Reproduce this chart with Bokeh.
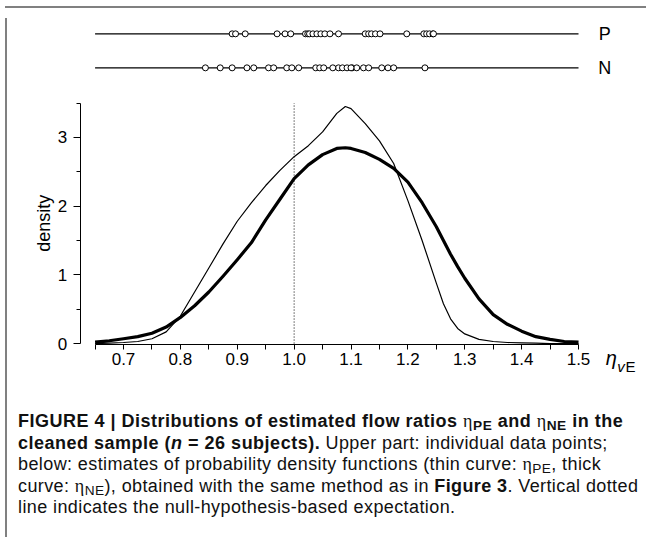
from bokeh.plotting import figure
from bokeh.models import FixedTicker, PrintfTickFormatter, Div, Range1d
from bokeh.layouts import column, row
from bokeh.embed import file_html
from bokeh.resources import INLINE
from bokeh.core.properties import value
import math

# ---------------- data ----------------
x_grid = [0.650, 0.675, 0.700, 0.725, 0.750, 0.775, 0.800, 0.825, 0.850, 0.875,
          0.900, 0.925, 0.950, 0.975, 1.000, 1.025, 1.050, 1.075, 1.090, 1.100,
          1.125, 1.150, 1.175, 1.200, 1.225, 1.250, 1.2625, 1.275, 1.2875, 1.300,
          1.325, 1.350, 1.375, 1.400, 1.425, 1.450, 1.475, 1.500]
# thin curve: eta_PE
p_density = [0.00, 0.005, 0.015, 0.03, 0.07, 0.17, 0.40, 0.75, 1.10, 1.45,
             1.78, 2.05, 2.30, 2.52, 2.72, 2.88, 3.08, 3.35, 3.45, 3.42,
             3.20, 2.95, 2.62, 2.08, 1.50, 0.88, 0.58, 0.36, 0.22, 0.14,
             0.06, 0.03, 0.015, 0.01, 0.005, 0.0, 0.0, 0.0]
# thick curve: eta_NE
n_density = [0.02, 0.04, 0.07, 0.10, 0.15, 0.24, 0.38, 0.55, 0.75, 0.98,
             1.22, 1.47, 1.80, 2.10, 2.40, 2.60, 2.75, 2.84, 2.85, 2.84,
             2.78, 2.68, 2.55, 2.35, 2.05, 1.70, 1.50, 1.30, 1.12, 0.95,
             0.65, 0.42, 0.28, 0.18, 0.10, 0.06, 0.03, 0.02]

p_points = [0.891, 0.897, 0.914, 0.970, 0.984, 0.994, 1.020, 1.024, 1.027, 1.033,
            1.040, 1.047, 1.054, 1.063, 1.078, 1.125, 1.131, 1.136, 1.143, 1.151,
            1.198, 1.228, 1.233, 1.238, 1.244, 1.245]
n_points = [0.844, 0.870, 0.891, 0.917, 0.929, 0.955, 0.964, 0.987, 0.996, 1.008,
            1.038, 1.045, 1.052, 1.078, 1.085, 1.093, 1.102, 1.110, 1.122, 1.131,
            1.154, 1.165, 1.175, 1.230, 1.068, 1.100]

strip_labels = ["P", "N"]

x_ticks = [0.7, 0.8, 0.9, 1.0, 1.1, 1.2, 1.3, 1.4, 1.5]
x_minor = [0.65, 0.75, 0.85, 0.95, 1.05, 1.15, 1.25, 1.35, 1.45]
y_ticks = [0, 1, 2, 3]
y_minor = [0.5, 1.5, 2.5, 3.5]
null_expectation = 1.0

# ---------------- layout constants ----------------
FONT = "Liberation Sans"
x_lo, x_hi = min(x_minor), max(x_ticks)
y_lo, y_hi = min(y_ticks), max(y_minor)
STRIP_Y = [4.508, 4.013]      # vertical positions of the two strips (P above N)
LABEL_X = 1.5460              # P / N labels
YAXIS_X = 0.6239              # where the y axis is drawn
XAXIS_Y = -0.015              # where the x axis is drawn

W = 639
p = figure(width=W, height=393, x_range=Range1d(0.5470, 1.6213),
           y_range=Range1d(-0.538, 4.804),
           output_backend="svg", toolbar_location=None,
           min_border_left=24, min_border_right=4, min_border_top=0, min_border_bottom=26)
p.grid.visible = False
p.outline_line_color = None

# strips with individual data points
p.segment(x0=[x_lo, x_lo], y0=STRIP_Y, x1=[x_hi, x_hi], y1=STRIP_Y,
          line_color="black", line_width=1.3)
p.scatter(p_points, [STRIP_Y[0]] * len(p_points), size=6,
          fill_color="white", line_color="black", line_width=1)
p.scatter(n_points, [STRIP_Y[1]] * len(n_points), size=6,
          fill_color="white", line_color="black", line_width=1)
p.text(x=[LABEL_X, LABEL_X], y=STRIP_Y, text=strip_labels,
       text_align="center", text_baseline="middle",
       text_font=value(FONT), text_font_size="18px", text_color="black")

# densities
p.segment(x0=[null_expectation], y0=[y_lo], x1=[null_expectation], y1=[y_hi],
          line_color="black", line_width=1, line_dash="1 2")
p.line(x_grid, n_density, line_color="black", line_width=3.2, line_join="round")
p.line(x_grid, p_density, line_color="black", line_width=1.2, line_join="round")

xa = p.xaxis[0]
xa.fixed_location = XAXIS_Y
xa.bounds = (x_lo, x_hi)
xa.ticker = FixedTicker(ticks=x_ticks, minor_ticks=x_minor)
xa.formatter = PrintfTickFormatter(format="%.1f")
xa.major_tick_out = 5
xa.minor_tick_out = 5
xa.major_tick_in = 0
xa.minor_tick_in = 0
xa.major_label_standoff = 3
xa.major_label_text_font = FONT
xa.major_label_text_font_size = "17px"
xa.major_label_text_color = "black"
xa.axis_line_color = "black"
xa.major_tick_line_color = "black"
xa.minor_tick_line_color = "black"

ya = p.yaxis[0]
ya.fixed_location = YAXIS_X
ya.bounds = (y_lo, y_hi)
ya.ticker = FixedTicker(ticks=y_ticks, minor_ticks=y_minor)
ya.major_tick_out = 7
ya.minor_tick_out = 4
ya.major_tick_in = 0
ya.minor_tick_in = 0
ya.major_label_standoff = 6
ya.major_label_text_font = FONT
ya.major_label_text_font_size = "17px"
ya.major_label_text_color = "black"
ya.axis_line_color = "black"
ya.major_tick_line_color = "black"
ya.minor_tick_line_color = "black"

# y-axis title
p.text(x=[0.5605], y=[(y_lo + y_hi) / 2], text=["density"], angle=math.pi / 2,
       text_align="center", text_baseline="middle",
       text_font=value(FONT), text_font_size="18px", text_color="black")

# x-axis title: eta_{vE}
p.text(x=[1.5480], y=[-0.204], text=["η"], text_align="left", text_baseline="middle",
       text_font=value(FONT), text_font_size="20px", text_font_style="italic",
       text_color="black")
p.text(x=[1.5680], y=[-0.341], text=["v"], text_align="left", text_baseline="middle",
       text_font=value(FONT), text_font_size="15px", text_font_style="italic",
       text_color="black")
p.text(x=[1.5825], y=[-0.341], text=["E"], text_align="left", text_baseline="middle",
       text_font=value(FONT), text_font_size="15px", text_font_style="normal",
       text_color="black")

eta = "<span style=\"font-family:'Liberation Serif';font-weight:normal\">η</span>"
sub = "<span style=\"font-size:0.76em;vertical-align:-0.22em;line-height:0\">{}</span>"
caption_html = (
    "<div style=\"font-family:'Liberation Sans';font-size:18px;line-height:21.5px;"
    "letter-spacing:0.4px;color:#111;white-space:nowrap;padding:0 0 0 1px;margin:0;\">"
    "<b style=\"letter-spacing:0.5px\">FIGURE 4 | Distributions of estimated flow ratios "
    + eta + sub.format("PE") + " and " + eta + sub.format("NE") + " in the</b><br>"
    "<b style=\"letter-spacing:0.5px\">cleaned sample (<i>n</i> = 26 subjects).</b>"
    " Upper part: individual data points;<br>"
    "below: estimates of probability density functions (thin curve: " + eta
    + sub.format("PE") + ", thick<br>"
    "curve: " + eta + sub.format("NE")
    + "), obtained with the same method as in <b>Figure 3</b>. Vertical dotted<br>"
    "line indicates the null-hypothesis-based expectation."
    "</div>"
)
cap = Div(text=caption_html, width=W, height=126)

inner = column(p, cap, spacing=0)
vline = Div(text="", width=2, height=519, styles={"background-color": "#808080"})
hline = Div(text="", width=W + 2, height=2, styles={"background-color": "#808080"})
layout = column(hline, row(vline, inner, spacing=0), spacing=0, margin=(1, 0, 0, 0))

open("out.html", "w").write(file_html(layout, INLINE))
